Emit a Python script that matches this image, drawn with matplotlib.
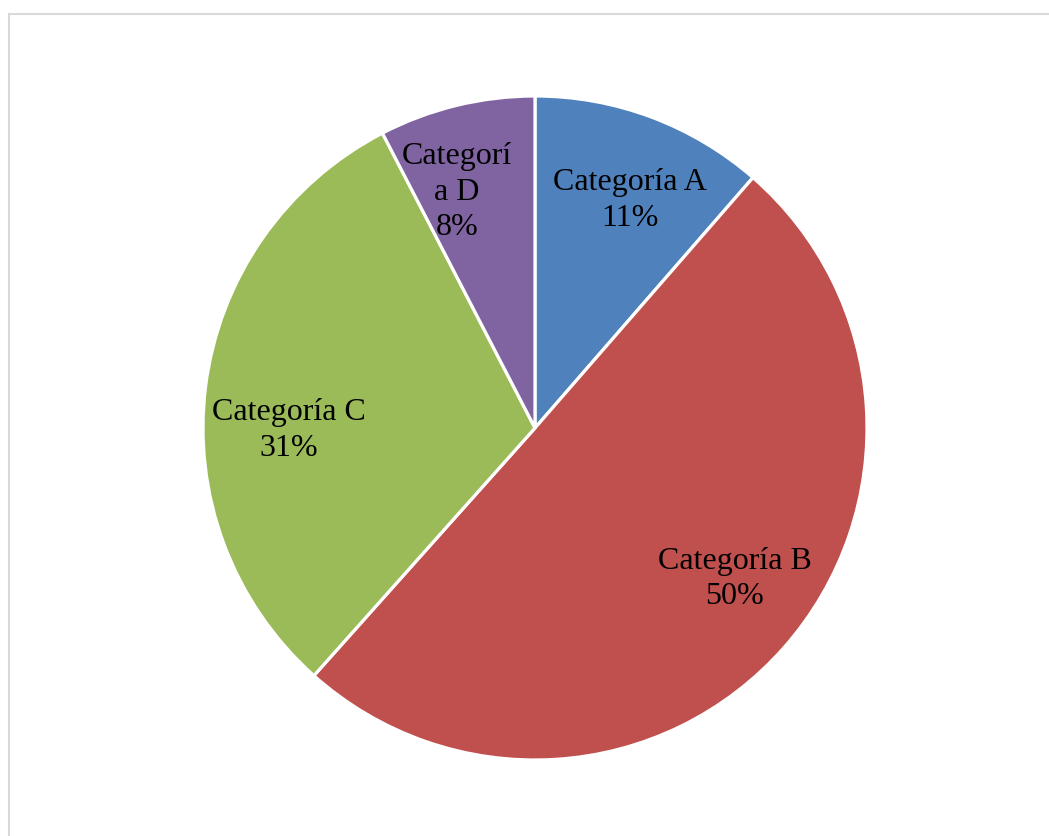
import matplotlib
matplotlib.use("Agg")
import matplotlib.pyplot as plt
from matplotlib.lines import Line2D

categories = ["Categoría A", "Categoría B", "Categoría C", "Categorí\na D"]
values = [11.4, 50.2, 30.8, 7.6]
pct_labels = ["11%", "50%", "31%", "8%"]
colors = ["#4F81BD", "#C0504D", "#9BBB59", "#8064A2"]
# label positions (in pie radius units)
label_pos = [(0.286, 0.685), (0.602, -0.455), (-0.741, -0.008), (-0.235, 0.71)]

W, H = 1049, 836
fig = plt.figure(figsize=(W / 100, H / 100), dpi=100)
fig.patch.set_facecolor("white")
ax = fig.add_axes([0, 0, 1, 1])

cx, cy, R = 535, 428, 332
ax.pie(values, colors=colors, startangle=90, counterclock=False,
       wedgeprops=dict(edgecolor="white", linewidth=2.3), radius=1.0)
ax.set_aspect("auto")
ax.set_xlim(-cx / R, (W - cx) / R)
ax.set_ylim(-(H - cy) / R, cy / R)
ax.axis("off")

for cat, pct, (x, y) in zip(categories, pct_labels, label_pos):
    ax.text(x, y, f"{cat}\n{pct}", ha="center", va="center",
            fontsize=23, family="Liberation Serif", color="black",
            linespacing=1.3)

# outer frame (light grey)
lc = "#D9D9D9"
fig.add_artist(Line2D([8.5 / W, 1.0], [1 - 14 / H, 1 - 14 / H],
                      transform=fig.transFigure, color=lc, linewidth=1.5))
fig.add_artist(Line2D([8.5 / W, 8.5 / W], [0, 1 - 14 / H],
                      transform=fig.transFigure, color=lc, linewidth=1.5))

fig.savefig("out.png", dpi=100, facecolor="white")
